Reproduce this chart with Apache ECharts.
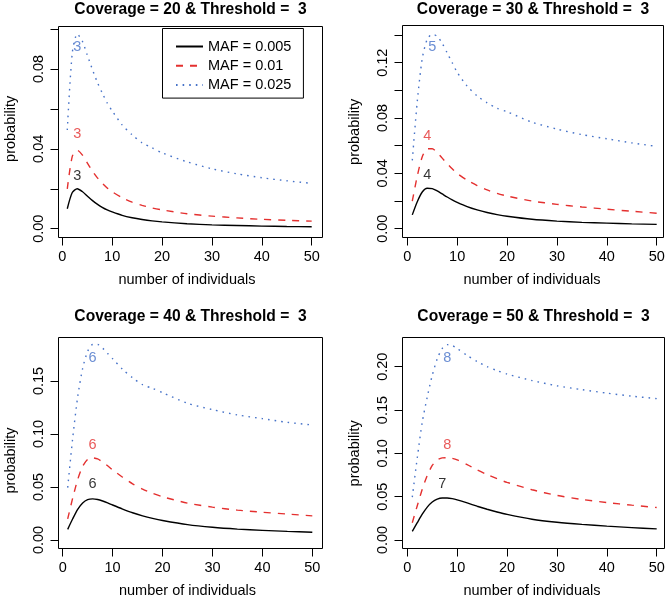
<!DOCTYPE html>
<html><head><meta charset="utf-8">
<script src="https://cdn.jsdelivr.net/npm/echarts@6/dist/echarts.min.js"></script>
<style>html,body{margin:0;padding:0;background:#fff}#c{width:667px;height:601px}</style>
</head><body><div id="c"></div>
<script>
// ---------- data ----------
const xs = [1,2,3,4,5,6,7,8,9,10,12,14,16,18,20,25,30,35,40,45,50];
const seriesNames = ['MAF = 0.005','MAF = 0.01','MAF = 0.025'];
const titles = ['Coverage = 20 & Threshold =  3','Coverage = 30 & Threshold =  3','Coverage = 40 & Threshold =  3','Coverage = 50 & Threshold =  3'];
const xAxisName = 'number of individuals';
const yAxisName = 'probability';
const xTicks = [0,10,20,30,40,50];
const yTickStep = [0.02,0.02,0.05,0.05];
const yLabelStep = [0.04,0.04,0.05,0.05];
const yTickTop = [0.10,0.14,0.15,0.20];

const p1Black = [0.0100,0.0181,0.0200,0.0186,0.0164,0.0142,0.0123,0.0107,0.0094,0.0084,0.0067,0.0055,0.0046,0.0039,0.0034,0.0025,0.0019,0.0016,0.0013,0.0011,0.0010];
const p1Red   = [0.0199,0.0362,0.0393,0.0370,0.0330,0.0290,0.0256,0.0228,0.0204,0.0185,0.0155,0.0133,0.0117,0.0104,0.0094,0.0075,0.0063,0.0054,0.0047,0.0042,0.0038];
const p1Blue  = [0.0494,0.0880,0.0975,0.0940,0.0870,0.0800,0.0735,0.0680,0.0630,0.0590,0.0520,0.0470,0.0430,0.0405,0.0380,0.0335,0.0300,0.0275,0.0255,0.0240,0.0227];

const p2Black = [0.0100,0.0195,0.0265,0.0292,0.0290,0.0273,0.0251,0.0229,0.0209,0.0191,0.0160,0.0136,0.0117,0.0102,0.0090,0.0068,0.0055,0.0046,0.0040,0.0035,0.0031];
const p2Red   = [0.0199,0.0380,0.0520,0.0577,0.0578,0.0550,0.0510,0.0470,0.0433,0.0400,0.0350,0.0312,0.0280,0.0255,0.0236,0.0200,0.0176,0.0157,0.0141,0.0126,0.0112];
const p2Blue  = [0.0494,0.0920,0.1230,0.1370,0.1405,0.1390,0.1340,0.1270,0.1200,0.1130,0.1030,0.0960,0.0910,0.0870,0.0845,0.0770,0.0720,0.0680,0.0650,0.0620,0.0595];

const p3Black = [0.0100,0.0200,0.0290,0.0350,0.0381,0.0388,0.0382,0.0368,0.0350,0.0330,0.0292,0.0257,0.0228,0.0204,0.0184,0.0145,0.0120,0.0103,0.0091,0.0081,0.0073];
const p3Red   = [0.0199,0.0395,0.0570,0.0695,0.0760,0.0775,0.0765,0.0735,0.0700,0.0662,0.0592,0.0530,0.0480,0.0440,0.0408,0.0348,0.0310,0.0282,0.0262,0.0245,0.0228];
const p3Blue  = [0.0494,0.0960,0.1350,0.1620,0.1780,0.1845,0.1845,0.1810,0.1760,0.1710,0.1610,0.1530,0.1465,0.1430,0.1390,0.1290,0.1230,0.1180,0.1145,0.1110,0.1085];

const p4Black = [0.0100,0.0200,0.0298,0.0380,0.0438,0.0472,0.0485,0.0485,0.0477,0.0463,0.0428,0.0390,0.0355,0.0323,0.0295,0.0240,0.0205,0.0180,0.0160,0.0143,0.0128];
const p4Red   = [0.0199,0.0396,0.0585,0.0745,0.0860,0.0925,0.0948,0.0950,0.0942,0.0925,0.0870,0.0810,0.0755,0.0707,0.0665,0.0580,0.0515,0.0468,0.0432,0.0402,0.0375];
const p4Blue  = [0.0494,0.0950,0.1360,0.1650,0.1900,0.2090,0.2210,0.2255,0.2245,0.2210,0.2130,0.2060,0.2000,0.1955,0.1915,0.1840,0.1780,0.1735,0.1695,0.1660,0.1632];

// peak labels (black, red, blue)
const p1LabelX = [3,3,3], p1LabelY = [0.0264,0.0474,0.0911], p1LabelText = ['3','3','3'];
const p2LabelX = [4,4,5], p2LabelY = [0.0388,0.0672,0.1315], p2LabelText = ['4','4','5'];
const p3LabelX = [6,6,6], p3LabelY = [0.0525,0.0896,0.1714], p3LabelText = ['6','6','6'];
const p4LabelX = [7,8,8], p4LabelY = [0.0643,0.1096,0.2097], p4LabelText = ['7','8','8'];

// ---------- styles / layout ----------
const FONT = '"Liberation Sans", Arial, Helvetica, sans-serif';
const FS = 14.5;
const colors = ['#000000','#e4302f','#4672c8'];
const lineTypes = ['solid',[7,7],[1.6,5]];
const layout = [
  {box:[58.5,26.5,322.5,237.5], x0:62.3, x50:311.7, y0:228.7, yTop:29, titleTop:1.5},
  {box:[402.5,25.5,663.5,237.5], x0:407.3, x50:656.7, y0:228.7, yTop:35, titleTop:1.5},
  {box:[58.5,337.5,322.5,548.5], x0:62.7, x50:312.3, y0:540, yTop:381, titleTop:309},
  {box:[402.5,337.5,664.5,548.5], x0:407.3, x50:656.7, y0:540, yTop:366.7, titleTop:309}
];

const panels = [
  {lines:[p1Black,p1Red,p1Blue], lx:p1LabelX, ly:p1LabelY, lt:p1LabelText},
  {lines:[p2Black,p2Red,p2Blue], lx:p2LabelX, ly:p2LabelY, lt:p2LabelText},
  {lines:[p3Black,p3Red,p3Blue], lx:p3LabelX, ly:p3LabelY, lt:p3LabelText},
  {lines:[p4Black,p4Red,p4Blue], lx:p4LabelX, ly:p4LabelY, lt:p4LabelText}
];

const option = {
  animation:false, backgroundColor:'#fff',
  textStyle:{fontFamily:FONT},
  title:[], grid:[], xAxis:[], yAxis:[], series:[],
  legend:{
    data:seriesNames, orient:'vertical', left:162.5, top:28.5,
    padding:[10,12,5,12.5], itemWidth:27, itemHeight:14, itemGap:3.3,
    borderColor:'#000', borderWidth:1, backgroundColor:'#fff',
    selectedMode:false, itemStyle:{opacity:0},
    textStyle:{fontSize:FS, color:'#000', fontFamily:FONT, lineHeight:16}
  }
};

panels.forEach((p,i)=>{
  const L = layout[i];
  const [bl,bt,br,bb] = L.box;
  option.title.push({text:titles[i], left:(bl+br)/2, top:L.titleTop, textAlign:'center', padding:0,
    textStyle:{fontSize:15.6, fontWeight:'bold', color:'#000', fontFamily:FONT}});
  option.grid.push({left:bl, top:bt, width:br-bl, height:bb-bt, show:true, borderColor:'#000', borderWidth:1,
    backgroundColor:'transparent', containLabel:false, outerBoundsMode:'none'});
  option.grid.push({left:L.x0, top:L.yTop, width:L.x50-L.x0, height:L.y0-L.yTop, show:false,
    containLabel:false, outerBoundsMode:'none'});
  option.xAxis.push({gridIndex:2*i, type:'value', show:false, min:0, max:1});
  option.yAxis.push({gridIndex:2*i, type:'value', show:false, min:0, max:1});
  const ys = yTickStep[i], yl = yLabelStep[i];
  option.xAxis.push({gridIndex:2*i+1, type:'value', min:xTicks[0], max:xTicks[xTicks.length-1],
    interval:xTicks[1]-xTicks[0], position:'bottom', offset:bb-L.y0,
    axisLine:{show:true, onZero:false, lineStyle:{color:'#000', width:1}},
    axisTick:{show:true, length:8, lineStyle:{color:'#000', width:1}},
    axisLabel:{fontSize:FS, color:'#000', margin:12, fontFamily:FONT},
    splitLine:{show:false},
    name:xAxisName, nameLocation:'middle', nameGap:35,
    nameTextStyle:{fontSize:FS, color:'#000', fontFamily:FONT}});
  option.yAxis.push({gridIndex:2*i+1, type:'value', min:0, max:yTickTop[i], interval:ys,
    position:'left', offset:L.x0-bl,
    axisLine:{show:true, onZero:false, lineStyle:{color:'#000', width:1}},
    axisTick:{show:true, length:8, lineStyle:{color:'#000', width:1}},
    axisLabel:{fontSize:FS, color:'#000', margin:12, rotate:90, fontFamily:FONT,
      formatter:(v)=>{ const r=v/yl; return Math.abs(r-Math.round(r))<1e-6 ? v.toFixed(2) : ''; }},
    splitLine:{show:false},
    name:yAxisName, nameLocation:'middle', nameGap:40,
    nameTextStyle:{fontSize:FS, color:'#000', fontFamily:FONT}});
  p.lines.forEach((vals,k)=>{
    option.series.push({type:'line', name:seriesNames[k], xAxisIndex:2*i+1, yAxisIndex:2*i+1,
      data:xs.map((x,j)=>[x, vals[j]]), showSymbol:false, symbol:'none', smooth:0.25, clip:false,
      color:colors[k], lineStyle:{color:colors[k], width:1.4, type:lineTypes[k]}, z:3});
  });
  option.series.push({type:'scatter', xAxisIndex:2*i+1, yAxisIndex:2*i+1, symbolSize:0, clip:false, silent:true,
    data:p.lx.map((x,k)=>({value:[x,p.ly[k]], label:{color:colors[k]}})),
    label:{show:true, position:'inside', fontSize:FS, fontFamily:FONT,
      formatter:(d)=>p.lt[d.dataIndex]}, z:5});
});

const chart = echarts.init(document.getElementById('c'), null, {renderer:'canvas'});
chart.setOption(option);
</script></body></html>
